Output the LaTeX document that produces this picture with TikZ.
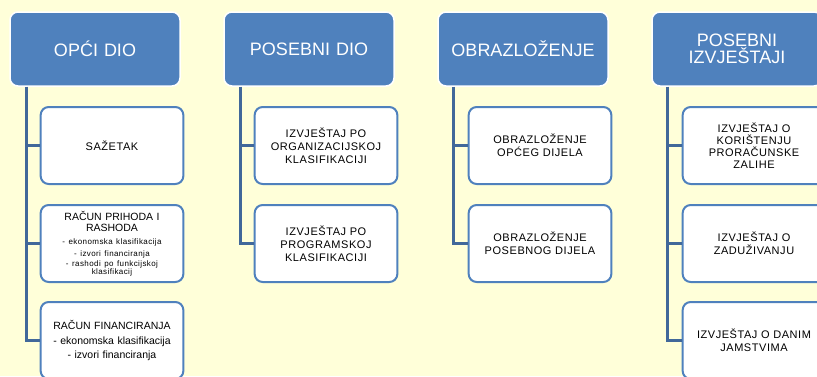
\documentclass[tikz,border=0pt]{standalone}
\usepackage{fontspec}
\setmainfont{Liberation Sans}
\newfontfamily\widefont[LetterSpace=5]{Liberation Sans}
\definecolor{bgyellow}{RGB}{255,255,217}
\definecolor{hdblue}{RGB}{79,129,189}
\definecolor{lnblue}{RGB}{65,104,154}
\begin{document}
\begin{tikzpicture}[%
 x=1pt,y=-1pt,
 head/.style={
 	rectangle,
 	draw=white,
 	line width=1.5pt,
 	fill=hdblue,
 	text=white,
 	font=\fontsize{18}{18}\selectfont,
 	text width=160pt,
 	align=center,
 	rounded corners=8pt,
 	minimum width=170pt,
 	minimum height=74pt
 },
 item/.style={
 	rectangle,
 	draw=hdblue,
 	line width=2pt,
 	fill=white,
 	font=\widefont\fontsize{11}{12.8}\selectfont,
 	text width=136pt,
 	align=center,
 	rounded corners=8pt,
 	minimum width=138pt,
 	minimum height=77pt
 },
 line/.style={
 	draw=lnblue,
 	line width=3pt
 }
 ]
\fill[bgyellow] (0,0) rectangle (817,376);
\useasboundingbox (0,0) rectangle (817,376);
\clip (0,0) rectangle (817,376);
% headers
\path (95,49) node[head] (H1) {OPĆI DIO}
 (309,49) node[head] (H2) {POSEBNI DIO}
 (523,49) node[head] (H3) {OBRAZLOŽENJE}
 (737,49) node[head,font=\fontsize{18}{17}\selectfont] (H4) {POSEBNI\\IZVJEŠTAJI};
% opci dio
\path (112,145.5) node[item] (A1) {SAŽETAK}
 (112,243.5) node[item,font=\fontsize{10.5}{11}\selectfont] (A2) {RAČUN PRIHODA I\\RASHODA\\[1pt]
 {\widefont\fontsize{8}{12}\selectfont - ekonomska klasifikacija\\- izvori financiranja\\[-2pt]- rashodi po funkcijskoj\\[-3pt]klasifikacij}}
 (112,340.5) node[item,font=\fontsize{10.5}{14.5}\selectfont] (A3) {RAČUN FINANCIRANJA\\- ekonomska klasifikacija\\- izvori financiranja};
% posebni dio
\path (326,145.5) node[item] (B1) {IZVJEŠTAJ PO\\ORGANIZACIJSKOJ\\KLASIFIKACIJI}
 (326,243.5) node[item] (B2) {IZVJEŠTAJ PO\\PROGRAMSKOJ\\KLASIFIKACIJI};
% obrazlozenje
\path (540,145.5) node[item] (C1) {OBRAZLOŽENJE\\OPĆEG DIJELA}
 (540,243.5) node[item] (C2) {OBRAZLOŽENJE\\POSEBNOG DIJELA};
% posebni izvjestaji
\path (754,145.5) node[item,font=\widefont\fontsize{11}{12}\selectfont] (D1) {IZVJEŠTAJ O\\KORIŠTENJU\\PRORAČUNSKE\\ZALIHE}
 (754,243.5) node[item] (D2) {IZVJEŠTAJ O\\ZADUŽIVANJU}
 (754,340.5) node[item] (D3) {IZVJEŠTAJ O DANIM\\JAMSTVIMA};
% connectors
\draw (H1.south west) ++(17,0) coordinate (a0);
\draw (H2.south west) ++(17,0) coordinate (b0);
\draw (H3.south west) ++(16,0) coordinate (c0);
\draw (H4.south west) ++(16,0) coordinate (d0);
\draw[line] (a0) |- (A1.west);
\draw[line] (a0) |- (A2.west);
\draw[line] (a0) |- (A3.west);
\draw[line] (b0) |- (B1.west);
\draw[line] (b0) |- (B2.west);
\draw[line] (c0) |- (C1.west);
\draw[line] (c0) |- (C2.west);
\draw[line] (d0) |- (D1.west);
\draw[line] (d0) |- (D2.west);
\draw[line] (d0) |- (D3.west);
\end{tikzpicture}
\end{document}
